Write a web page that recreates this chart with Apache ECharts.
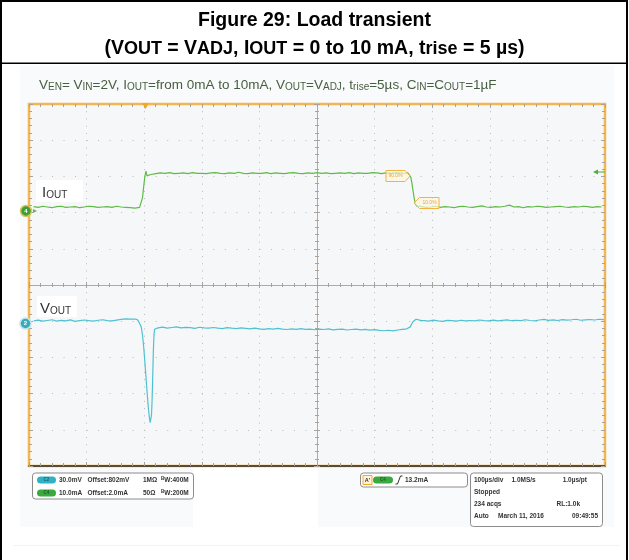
<!DOCTYPE html>
<html>
<head>
<meta charset="utf-8">
<script src="https://cdn.jsdelivr.net/npm/echarts@6.0.0/dist/echarts.min.js"></script>
<style>html,body{margin:0;padding:0;background:#fff;}#chart{width:629px;height:560px;}</style>
</head>
<body>
<div id="chart"></div>
<script>
// ---------- DATA (read from the reference scope capture) ----------
// time axis: microseconds, 100 µs/div, 10 divisions
const timeMin = -500, timeMax = 500, timeStep = 100;
// vertical grid: 10 divisions
const divMin = -5, divMax = 5;
// channel C4 : I_OUT in mA (10 mA/div)
const ioutRange = [-71.55, 28.45];
// channel C2 : V_OUT in mV (30 mV/div)
const voutRange = [683.7, 983.7];

const ioutPre = [[-492,0.1],[-484,-0.1],[-476,0.2],[-468,0.0],[-460,-0.2],[-452,0.1],[-444,0.2],[-436,-0.1],[-428,0.0],[-420,0.1],[-412,-0.2],[-404,0.0],[-396,0.2],[-388,0.1],[-380,-0.1],[-372,0.0],[-364,0.1],[-356,-0.1],[-348,0.2],[-340,0.0],[-332,-0.1],[-324,-0.2],[-316,-0.3],[-308,-0.1]];
const ioutRise = [[-305,0.4],[-303,2.5],[-301,5.5],[-299,8.3],[-297,9.9],[-295,8.6],[-293,8.4],[-290,8.9],[-287,9.3]];
const ioutHigh = [[-280,9.2],[-272,9.4],[-264,9.3],[-256,9.5],[-248,9.2],[-240,9.3],[-232,9.4],[-224,9.2],[-216,9.5],[-208,9.3],
  [-200,9.3],[-192,9.2],[-184,9.4],[-176,9.5],[-168,9.3],[-160,9.2],[-152,9.4],[-144,9.3],[-136,9.6],[-128,9.3],
  [-120,9.2],[-112,9.4],[-104,9.3],[-96,9.3],[-88,9.5],[-80,9.2],[-72,9.4],[-64,9.3],[-56,9.2],[-48,9.4],
  [-40,9.5],[-32,9.3],[-24,9.2],[-16,9.4],[-8,9.3],[0,9.5],[8,9.3],[16,9.4],[24,9.2],[32,9.3],
  [40,9.4],[48,9.3],[56,9.5],[64,9.2],[72,9.4],[80,9.3],[88,9.3],[96,9.5],[104,9.4],[112,9.2],
  [120,9.4],[128,9.3],[136,9.5],[144,9.4],[152,9.3]];
const ioutFall = [[158,9.4],[161,9.1],[163,8.2],[165,6.4],[167,4.2],[169,2.2],[171,0.9],[173,0.3],[176,0.0]];
const ioutPost = [[182,0.1],[190,-0.1],[198,0.0],[206,0.2],[214,-0.1],[222,0.1],[230,0.0],[238,-0.2],[246,0.1],[254,0.2],
  [262,0.0],[270,-0.1],[278,0.1],[286,0.3],[294,0.0],[302,-0.1],[310,0.1],[318,0.0],[326,0.2],[334,0.5],
  [342,0.0],[350,0.1],[358,-0.2],[366,0.1],[374,0.0],[382,0.2],[390,0.1],[398,-0.1],[406,0.0],[414,0.1],
  [422,0.2],[430,0.0],[438,-0.1],[446,0.1],[454,0.0],[462,0.2],[470,0.1],[478,-0.1],[486,0.1],[494,0.0]];

const voutPre = [[-492,804.0],[-484,804.6],[-476,803.7],[-468,804.3],[-460,804.9],[-452,803.8],[-444,804.4],[-436,804.0],[-428,804.8],[-420,803.6],
  [-412,804.2],[-404,804.7],[-396,804.1],[-388,803.8],[-380,804.5],[-372,804.9],[-364,804.2],[-356,803.9],[-348,804.6],[-340,805.2],
  [-332,805.6],[-324,805.4],[-316,805.5]];
const voutDip = [[-312,805.0],[-309.5,803.3],[-307,801.0],[-305,798.5],[-303,792.5],[-301,783.0],[-299,771.0],[-297,758.0],[-295,745.0],[-293,733.0],
  [-291,724.0],[-289.6,719.6],[-288.5,721.0],[-287.3,726.0],[-286.4,737.0],[-285.6,750.0],[-284.8,766.0],[-283.9,782.0],[-283,792.0],[-282,797.0],[-280,798.5]];
const voutLow = [[-276,798.2],[-268,798.8],[-260,797.9],[-252,798.5],[-244,799.0],[-236,798.1],[-228,798.6],[-220,798.3],[-212,797.8],[-204,798.7],
  [-196,798.2],[-188,797.9],[-180,798.5],[-172,798.0],[-164,797.6],[-156,798.4],[-148,797.9],[-140,797.5],[-132,798.1],[-124,797.7],
  [-116,797.3],[-108,797.9],[-100,797.4],[-92,797.0],[-84,797.6],[-76,797.2],[-68,797.8],[-60,797.1],[-52,796.8],[-44,797.4],
  [-36,797.0],[-28,797.5],[-20,796.9],[-12,797.2],[-4,796.6],[4,797.1],[12,796.8],[20,797.3],[28,796.5],[36,796.9],
  [44,797.1],[52,796.4],[60,796.8],[68,797.2],[76,796.5],[84,796.9],[92,796.3],[100,796.7],[108,796.1],[116,795.8],
  [124,796.2],[132,795.7],[140,796.4],[148,797.0],[156,797.4]];
const voutRecover = [[159,797.6],[162,799.0],[164.5,801.5],[167,803.5],[169.5,804.8],[172,805.3],[175,805.0],[180,804.4]];
const voutPost = [[186,804.2],[194,803.8],[202,804.6],[210,804.0],[218,803.6],[226,804.4],[234,804.1],[242,803.7],[250,804.5],[258,804.0],
  [266,804.3],[274,803.9],[282,804.7],[290,804.2],[298,804.0],[306,804.6],[314,803.9],[322,804.4],[330,804.8],[338,804.1],
  [346,804.5],[354,804.2],[362,804.9],[370,804.3],[378,804.0],[386,804.7],[394,805.2],[402,804.4],[410,804.8],[418,804.3],
  [426,805.0],[434,804.6],[442,804.9],[450,805.3],[458,804.5],[466,804.8],[474,805.1],[482,804.7],[490,805.3],[498,805.0]];

const ioutPoints = [].concat(ioutPre, ioutRise, ioutHigh, ioutFall, ioutPost);
const voutPoints = [].concat(voutPre, voutDip, voutLow, voutRecover, voutPost);

// ---------- STYLE ----------
const FONT = '"Liberation Sans", Arial, Helvetica, sans-serif';
const tickColor = '#a9a39b';
const dotColor = '#bababa';
const centerColor = '#ababab';
const green = '#5fbb45';
const cyan = '#4fc1d1';

function valAxisBase(min, max, interval) {
  return {type: 'value', min: min, max: max, interval: interval, axisLabel: {show: false}, splitLine: {show: false}};
}
function tickSet(inside, len) {
  return {
    axisTick: {show: true, inside: inside, length: len, lineStyle: {color: tickColor, width: 1}},
    minorTick: {show: true, splitNumber: 5, length: len - 1, lineStyle: {color: tickColor, width: 1}}
  };
}

const xAxes = [
  Object.assign(valAxisBase(timeMin, timeMax, timeStep), {position: 'bottom',
    axisLine: {show: true, onZero: false, lineStyle: {color: '#2a2a2a', width: 1.5}},
    splitLine: {show: true, lineStyle: {color: dotColor, width: 1, type: [1, 6.24]}}}, tickSet(true, 4)),
  Object.assign(valAxisBase(timeMin, timeMax, timeStep), {position: 'top',
    axisLine: {show: false, onZero: false}}, tickSet(true, 4)),
  Object.assign(valAxisBase(timeMin, timeMax, timeStep), {position: 'bottom',
    axisLine: {show: true, onZero: true, onZeroAxisIndex: 0, lineStyle: {color: centerColor, width: 1}}}, tickSet(false, 3)),
  Object.assign(valAxisBase(timeMin, timeMax, timeStep), {position: 'top',
    axisLine: {show: false, onZero: true, onZeroAxisIndex: 0}}, tickSet(false, 3))
];
const yAxes = [
  Object.assign(valAxisBase(divMin, divMax, 1), {position: 'left',
    axisLine: {show: false, onZero: false},
    splitLine: {show: true, lineStyle: {color: dotColor, width: 1, type: [1, 10.52]}}}, tickSet(true, 4)),
  Object.assign(valAxisBase(divMin, divMax, 1), {position: 'right',
    axisLine: {show: false, onZero: false}}, tickSet(true, 4)),
  Object.assign(valAxisBase(divMin, divMax, 1), {position: 'left',
    axisLine: {show: true, onZero: true, onZeroAxisIndex: 0, lineStyle: {color: centerColor, width: 1}}}, tickSet(false, 3)),
  Object.assign(valAxisBase(divMin, divMax, 1), {position: 'right',
    axisLine: {show: false, onZero: true, onZeroAxisIndex: 0}}, tickSet(false, 3)),
  {type: 'value', show: false, min: ioutRange[0], max: ioutRange[1], position: 'left', axisLine: {onZero: false}},
  {type: 'value', show: false, min: voutRange[0], max: voutRange[1], position: 'left', axisLine: {onZero: false}}
];

// ---------- DECORATION (graphic) ----------
const G = [];
function R(x, y, w, h, style, z, r) { G.push({type: 'rect', shape: {x: x, y: y, width: w, height: h, r: r || 0}, style: style, z: z == null ? 50 : z, silent: true}); }
function T(x, y, text, st, z) {
  G.push({type: 'text', x: x, y: y, z: z == null ? 60 : z, silent: true,
    style: Object.assign({text: text, fill: '#333', fontFamily: FONT, fontSize: 6.5, fontWeight: 'bold', align: 'left', verticalAlign: 'middle'}, st)});
}
function P(points, style, z) { G.push({type: 'polygon', shape: {points: points}, style: style, z: z == null ? 55 : z, silent: true}); }
function L(x1, y1, x2, y2, style, z) { G.push({type: 'line', shape: {x1: x1, y1: y1, x2: x2, y2: y2}, style: style, z: z == null ? 55 : z, silent: true}); }

// scope screen background
const scr = '#f9fafb';
R(20, 66, 594, 401, {fill: scr}, -10);
R(20, 467, 173, 60, {fill: scr}, -10);
R(318, 467, 296, 60, {fill: scr}, -10);
L(13, 545.5, 620, 545.5, {stroke: '#f3f3f3', lineWidth: 1}, -10);

// frame
R(0, 0, 2, 560, {fill: '#000'});
R(0, 0, 628, 2, {fill: '#000'});
R(626, 0, 2, 560, {fill: '#000'});
R(0, 62.5, 628, 1.5, {fill: '#000'});

// titles
T(314.5, 20.5, 'Figure 29: Load transient', {fill: '#000', fontSize: 19.5, align: 'center'});
const tm = {fontSize: 19.5, fontWeight: 'bold', fontFamily: FONT, fill: '#000', lineHeight: 24, verticalAlign: 'bottom'};
const ts = {fontSize: 18, fontWeight: 'bold', fontFamily: FONT, fill: '#000', lineHeight: 22.5, verticalAlign: 'bottom'};
T(314.5, 46.5, '{m|(V}{s|OUT}{m| = V}{s|ADJ}{m|, I}{s|OUT}{m| = 0 to 10 mA, t}{s|rise}{m| = 5 µs)}',
  {align: 'center', rich: {m: tm, s: ts}});
const sc = '#485e40';
const sm = {fontSize: 13.5, fontWeight: 'normal', fontFamily: FONT, fill: sc, lineHeight: 16, verticalAlign: 'bottom'};
const ss = {fontSize: 10, fontWeight: 'normal', fontFamily: FONT, fill: sc, lineHeight: 11.5, verticalAlign: 'bottom'};
T(39, 84, '{m|V}{s|EN}{m|= V}{s|IN}{m|=2V, I}{s|OUT}{m|=from 0mA to 10mA, V}{s|OUT}{m|=V}{s|ADJ}{m|, t}{s|rise}{m|=5µs, C}{s|IN}{m|=C}{s|OUT}{m|=1µF}',
  {rich: {m: sm, s: ss}});

// channel labels
const lm = {fontSize: 15, fontWeight: 'normal', fontFamily: FONT, fill: '#333', lineHeight: 18, verticalAlign: 'bottom'};
const ls = {fontSize: 10, fontWeight: 'normal', fontFamily: FONT, fill: '#333', lineHeight: 12, verticalAlign: 'bottom'};
R(36, 180, 47, 22, {fill: '#fff'}, 40);
T(42, 191, '{a|I}{b|OUT}', {rich: {a: lm, b: ls}});
R(37, 296, 40, 21, {fill: '#fff'}, 40);
T(40, 307, '{a|V}{b|OUT}', {rich: {a: lm, b: ls}});

// channel markers
G.push({type: 'circle', shape: {cx: 26, cy: 211, r: 5.5}, style: {fill: '#3f9e35', stroke: '#d8c35c', lineWidth: 1.5}, z: 70, silent: true});
T(26, 211, '4', {fill: '#fff', fontSize: 6, align: 'center'}, 71);
P([[37, 211], [33, 209], [33, 213]], {fill: green}, 70);
G.push({type: 'circle', shape: {cx: 25.5, cy: 323.5, r: 5.5}, style: {fill: '#3aa9b9', stroke: '#bfe6ec', lineWidth: 1.5}, z: 70, silent: true});
T(25.5, 323.5, '2', {fill: '#fff', fontSize: 6, align: 'center'}, 71);

// trigger position / level
P([[142, 103], [149, 103], [145.5, 109]], {fill: '#f5a623'}, 70);
P([[593, 172], [598, 169.5], [598, 174.5]], {fill: '#4caf3a'}, 70);
L(598, 172, 605, 172, {stroke: '#4caf3a', lineWidth: 1}, 70);

// rise/fall measurement markers
P([[386, 170.5], [405, 170.5], [410, 176], [405, 181.5], [386, 181.5]], {fill: 'rgba(255,246,222,0.7)', stroke: '#f2b244', lineWidth: 1}, 70);
T(395.5, 176, '90.0%', {fill: '#e9a43a', fontSize: 5, fontWeight: 'normal', align: 'center'}, 71);
P([[414, 203], [419.5, 197.5], [439, 197.5], [439, 208.5], [419.5, 208.5]], {fill: 'rgba(255,246,222,0.7)', stroke: '#f2b244', lineWidth: 1}, 70);
T(429.5, 203, '10.0%', {fill: '#e9a43a', fontSize: 5, fontWeight: 'normal', align: 'center'}, 71);

// bottom info panels
const pStroke = {fill: '#fff', stroke: '#8c8c8c', lineWidth: 1};
R(32.5, 473, 161, 26, pStroke, 50, 3);
R(37, 476.5, 19, 7, {fill: '#2fb3c4'}, 55, 3.5);
T(46.5, 480, 'C2', {fill: '#1d6470', fontSize: 4.5, align: 'center'});
R(37, 489.5, 19, 7, {fill: '#3aaa40'}, 55, 3.5);
T(46.5, 493, 'C4', {fill: '#1d5c22', fontSize: 4.5, align: 'center'});
const bw = {b: {fontSize: 4.5, fontWeight: 'bold', fontFamily: FONT, fill: '#333', verticalAlign: 'top', lineHeight: 8},
            t: {fontSize: 6.5, fontWeight: 'bold', fontFamily: FONT, fill: '#333', verticalAlign: 'bottom', lineHeight: 8}};
T(59, 480, '30.0mV');
T(87.5, 480, 'Offset:802mV');
T(143, 480, '1MΩ');
T(161, 480, '{b|B}{t|W:400M}', {rich: bw});
T(59, 493, '10.0mA');
T(87.5, 493, 'Offset:2.0mA');
T(143, 493, '50Ω');
T(161, 493, '{b|B}{t|W:200M}', {rich: bw});

R(360.5, 473, 107, 14, pStroke, 50, 3);
R(363, 475.5, 9, 9, {fill: '#fff3dc', stroke: '#f0a830', lineWidth: 1}, 55);
T(367.5, 480, "A'", {fill: '#333', fontSize: 5.5, align: 'center'});
R(373, 476.5, 20, 7, {fill: '#3aaa40'}, 55, 3.5);
T(383, 480, 'C4', {fill: '#1d5c22', fontSize: 4.5, align: 'center'});
G.push({type: 'polyline', shape: {points: [[395.5, 484], [397.5, 484], [400.5, 476], [402.5, 476]]}, style: {stroke: '#333', lineWidth: 1, fill: null}, z: 55, silent: true});
T(405, 480, '13.2mA');

R(470.5, 473, 132, 53.5, pStroke, 50, 3);
T(474, 480, '100µs/div');
T(511.5, 480, '1.0MS/s');
T(587, 480, '1.0µs/pt', {align: 'right'});
T(474, 492, 'Stopped');
T(474, 504, '234 acqs');
T(580, 504, 'RL:1.0k', {align: 'right'});
T(474, 516, 'Auto');
T(498, 516, 'March 11, 2016');
T(598, 516, '09:49:55', {align: 'right'});

// ---------- CHART ----------
const chart = echarts.init(document.getElementById('chart'), null, {renderer: 'canvas'});
chart.setOption({
  animation: false,
  backgroundColor: '#fff',
  grid: {left: 29, top: 104, width: 576, height: 362, show: true,
    backgroundColor: '#f5f7f9', borderColor: '#f4b64e', borderWidth: 2.5},
  xAxis: xAxes,
  yAxis: yAxes,
  graphic: {elements: G},
  series: [
    {name: 'IOUT', type: 'line', xAxisIndex: 0, yAxisIndex: 4, data: ioutPoints, symbol: 'none',
      lineStyle: {color: green, width: 1.2}, z: 5, silent: true},
    {name: 'VOUT', type: 'line', xAxisIndex: 0, yAxisIndex: 5, data: voutPoints, symbol: 'none',
      lineStyle: {color: cyan, width: 1.2}, z: 5, silent: true}
  ]
});
</script>
</body>
</html>
